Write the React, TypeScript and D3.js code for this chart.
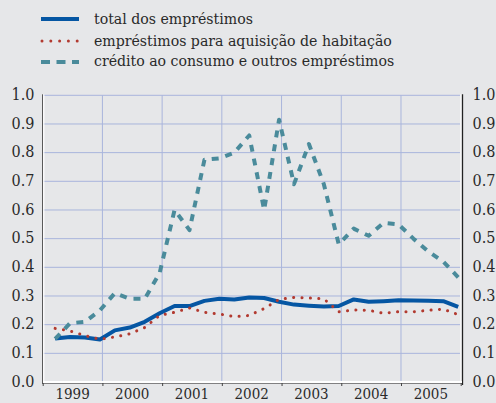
import React from "react";
import * as d3 from "d3";

const years = [1999, 2000, 2001, 2002, 2003, 2004, 2005];
const yTicks = [0, 0.1, 0.2, 0.3, 0.4, 0.5, 0.6, 0.7, 0.8, 0.9, 1.0];
// quarterly observations, 1999 Q1 .. 2005 Q4
const quarters = d3.range(28).map((i) => 1999 + (3 * i + 2.5) / 12);
const total = [0.152, 0.157, 0.155, 0.148, 0.18, 0.19, 0.21, 0.24, 0.265, 0.265, 0.283, 0.29, 0.288, 0.295, 0.293, 0.28, 0.27, 0.266, 0.263, 0.265, 0.288, 0.28, 0.282, 0.285, 0.284, 0.283, 0.282, 0.262];
const habitacao = [0.187, 0.178, 0.162, 0.149, 0.157, 0.168, 0.19, 0.232, 0.243, 0.258, 0.243, 0.237, 0.228, 0.232, 0.256, 0.288, 0.295, 0.293, 0.29, 0.245, 0.251, 0.25, 0.24, 0.245, 0.245, 0.25, 0.254, 0.235];
const consumo = [0.15, 0.205, 0.21, 0.25, 0.31, 0.29, 0.29, 0.38, 0.6, 0.53, 0.775, 0.78, 0.8, 0.86, 0.6, 0.915, 0.69, 0.83, 0.69, 0.48, 0.535, 0.51, 0.555, 0.55, 0.5, 0.455, 0.42, 0.365];
const legendLabels = [
  "total dos empréstimos",
  "empréstimos para aquisição de habitação",
  "crédito ao consumo e outros empréstimos",
];

const BG = "#e6e7e9";
const GRID = "#a9b5dc";
const BLUE = "#0556a3";
const RED = "#b23a30";
const TEAL = "#4a8b9b";
const TEXT = "#2a2a2a";
const FONT = '"DejaVu Serif Condensed", "DejaVu Serif", serif';

export default function App() {
  const W = 496, H = 403;
  const x = d3.scaleLinear().domain([1999, 2006]).range([42.7, 460.7]);
  const y = d3.scaleLinear().domain([0, 1]).range([382, 95.3]);
  const line = d3
    .line<number>()
    .x((_, i) => x(quarters[i]))
    .y((d) => y(d));

  const styles = [
    { color: BLUE, width: 4, dash: undefined as string | undefined, cap: "butt" },
    { color: RED, width: 3, dash: "0.1 8.3", cap: "round" },
    { color: TEAL, width: 4, dash: "7 7", cap: "butt" },
  ];
  const series = [total, habitacao, consumo];
  const legendRows = [19, 41, 62];
  const legendBase = [24, 45.5, 66];
  const txt = { fontFamily: FONT } as React.CSSProperties;

  return (
    <svg width={W} height={H} style={{ position: "absolute", left: 0, top: 0, display: "block" }}>
      <rect x={0} y={0} width={W} height={H} fill={BG} />
      {/* legend */}
      {legendLabels.map((lab, k) => (
        <g key={lab}>
          {k === 1 ? (
            d3.range(5).map((j) => (
              <circle key={j} cx={42 + j * 8.8} cy={legendRows[k]} r={1.5} fill={RED} />
            ))
          ) : (
            <line
              x1={41}
              x2={79}
              y1={legendRows[k]}
              y2={legendRows[k]}
              stroke={styles[k].color}
              strokeWidth={4}
              strokeDasharray={k === 2 ? "9 6.5" : undefined}
            />
          )}
          <text x={94} y={legendBase[k]} style={txt} fontSize={15.7} fill={TEXT}>
            {lab}
          </text>
        </g>
      ))}
      {/* grid */}
      {yTicks.map((t) => (
        <line key={t} x1={43} x2={460} y1={y(t)} y2={y(t)} stroke={GRID} strokeWidth={1} />
      ))}
      {years.slice(1).map((yr) => (
        <line key={yr} x1={x(yr)} x2={x(yr)} y1={y(1)} y2={y(0)} stroke={GRID} strokeWidth={1} />
      ))}
      {/* axes */}
      <line x1={42.5} x2={42.5} y1={y(1) - 1} y2={y(0) + 2} stroke="#5a5a5a" strokeWidth={1} />
      <line x1={43.8} x2={43.8} y1={y(1) - 1} y2={y(0)} stroke="#ffffff" strokeWidth={1.2} />
      <line x1={461} x2={461} y1={y(1) - 1} y2={y(0)} stroke="#ffffff" strokeWidth={1.2} />
      <line x1={462.5} x2={462.5} y1={y(1) - 1} y2={y(0) + 3} stroke="#222" strokeWidth={1.3} />
      <line x1={43} x2={462} y1={y(0)} y2={y(0)} stroke="#ffffff" strokeWidth={2} />
      <line x1={43} x2={462} y1={y(0) + 1.5} y2={y(0) + 1.5} stroke="#666" strokeWidth={0.8} />
      {[...years, 2006].map((yr) => (
        <line key={yr} x1={x(yr) + 0.5} x2={x(yr) + 0.5} y1={y(0) + 1} y2={y(0) + 4} stroke="#444" strokeWidth={1} />
      ))}
      {/* series */}
      {series.map((s, k) => (
        <path
          key={k}
          d={line(s) ?? ""}
          fill="none"
          stroke={styles[k].color}
          strokeWidth={styles[k].width}
          strokeDasharray={styles[k].dash}
          strokeLinecap={styles[k].cap as any}
          strokeLinejoin="round"
        />
      ))}
      {/* tick labels */}
      {yTicks.map((t) => (
        <g key={t}>
          <text x={34.5} y={y(t) - 1} dy="0.35em" textAnchor="end" style={txt} fontSize={16} fill={TEXT}>
            {t.toFixed(1)}
          </text>
          <text x={472.5} y={y(t) - 1} dy="0.35em" textAnchor="start" style={txt} fontSize={16} fill={TEXT}>
            {t.toFixed(1)}
          </text>
        </g>
      ))}
      {years.map((yr) => (
        <text key={yr} x={x(yr + 0.5)} y={398.5} textAnchor="middle" style={txt} fontSize={15} fill={TEXT}>
          {yr}
        </text>
      ))}
    </svg>
  );
}
